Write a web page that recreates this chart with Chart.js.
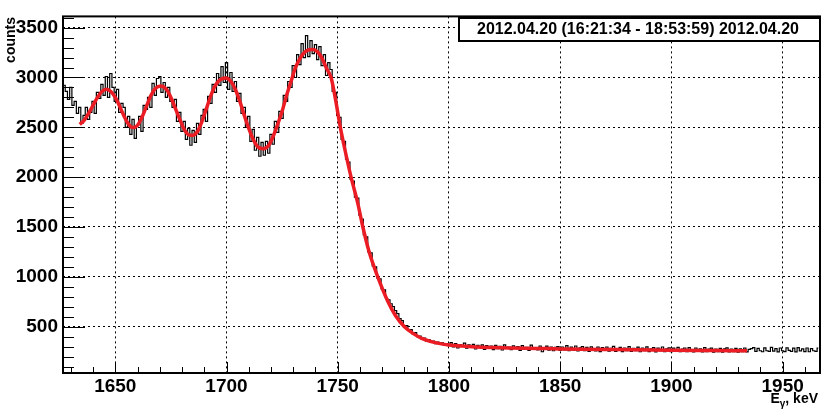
<!DOCTYPE html>
<html>
<head>
<meta charset="utf-8">
<script src="https://cdn.jsdelivr.net/npm/chart.js@4.4.1/dist/chart.umd.min.js"></script>
<style>
  html, body { margin: 0; padding: 0; background: #fff; }
  #c { display: block; }
</style>
</head>
<body>
<canvas id="c" width="830" height="414"></canvas>
<script>
  // --- Dados -----------------------------------------------------------------
  var TITLE = "2012.04.20 (16:21:34 - 18:53:59) 2012.04.20";
  var Y_TITLE = "counts";
  var X_TICKS = [1650, 1700, 1750, 1800, 1850, 1900, 1950];
  var Y_TICKS = [500, 1000, 1500, 2000, 2500, 3000, 3500];

  // histograma: bins de 1 keV a partir de HIST_START
  var HIST_START = 1627;
  var HIST_COUNTS = [
    2920, 2860, 2780, 2900, 2720, 2760, 2640, 2700, 2540, 2620,
    2700, 2580, 2650, 2760, 2640, 2850, 2790, 2930, 2820, 3010,
    2800, 3040, 2900, 2760, 2880, 2650, 2740, 2700, 2500, 2610,
    2430, 2580, 2390, 2520, 2610, 2460, 2720, 2680, 2800, 2700,
    2940, 2820, 2990, 3010, 2850, 2950, 2800, 2900, 2760, 2700,
    2780, 2560, 2650, 2460, 2560, 2380, 2490, 2320, 2470, 2350,
    2540, 2430, 2620, 2680, 2560, 2810, 2740, 2930, 2850, 3040,
    2920, 3110, 2950, 3150, 2880, 3050, 2860, 2960, 2760, 2840,
    2640, 2700, 2500, 2610, 2360, 2480, 2270, 2400, 2210, 2350,
    2220, 2360, 2240, 2430, 2330, 2560, 2450, 2660, 2590, 2820,
    2760, 2960, 2900, 3120, 3000, 3230, 3130, 3340, 3200, 3420,
    3210, 3370, 3240, 3330, 3180, 3310, 3120, 3230, 3020, 3150,
    3080, 2860, 2850, 2620, 2600, 2380, 2360, 2180, 2150, 1980,
    1960, 1800, 1790, 1620, 1580, 1420, 1400, 1250, 1240, 1110,
    1100, 990, 980, 880, 870, 780, 770, 730, 700, 660,
    630, 580, 560, 500, 510, 470, 470, 425, 440, 400,
    405, 375, 385, 355, 370, 345, 355, 330, 345, 322,
    338, 315, 330, 310,
    340, 296, 330, 286, 320, 302, 334, 284, 318, 296,
    322, 276, 312, 296, 318, 272, 310, 290, 304, 270,
    312, 280, 302, 266, 318, 284, 296, 270, 308, 286,
    300, 262, 310, 282, 292, 262, 314, 276, 290, 268,
    306, 248, 288, 304, 264, 296, 258, 292, 300, 262,
    296, 266, 310, 258, 294, 264, 306, 256, 288, 300,
    258, 292, 252, 298, 270, 256, 296, 250, 290, 262,
    296, 254, 282, 302, 252, 280, 292, 250, 286, 258,
    300, 252, 282, 260, 294, 248, 286, 258, 298, 250,
    278, 290, 246, 284, 258, 296, 250, 278, 288, 248,
    284, 252, 292, 248, 276, 286, 250, 290, 256, 246,
    286, 252, 278, 246, 290, 250, 276, 284, 244, 276,
    250, 282, 244, 278, 288, 246, 274, 250, 282, 244,
    278, 248, 286, 246, 272, 280, 290, 252, 282, 258,
    248, 288, 258, 252, 292, 254, 280, 246, 286, 258,
    250, 288, 262, 252, 284, 246, 290, 256, 278, 250,
    286, 248, 280, 258, 252, 284
  ];

  // curva ajustada (vermelha)
  var FIT_E = [
    1634, 1636, 1638, 1640, 1642, 1644, 1646, 1648, 1650, 1652, 1654, 1656, 1658,
    1660, 1662, 1664, 1666, 1668, 1670.5, 1673, 1675, 1677, 1679, 1681, 1683, 1685,
    1687, 1689, 1691, 1693, 1695, 1697, 1699.7, 1702, 1704, 1706, 1708, 1710, 1712,
    1714, 1716.5, 1719, 1721, 1723, 1725, 1727, 1729, 1731, 1733, 1735, 1737, 1739,
    1741, 1743, 1745, 1747, 1749, 1751, 1753, 1756, 1759, 1761.3, 1764, 1768, 1772.6,
    1776, 1780, 1784, 1788, 1792, 1796, 1800, 1806, 1812, 1820, 1827, 1840, 1850,
    1875, 1900, 1920, 1934
  ];
  var FIT_COUNTS = [
    2530, 2570, 2640, 2720, 2800, 2860, 2882, 2860, 2800, 2710, 2610, 2530, 2498,
    2520, 2600, 2710, 2820, 2890, 2915, 2880, 2800, 2690, 2580, 2480, 2425, 2420,
    2460, 2560, 2690, 2820, 2920, 2975, 2995, 2960, 2880, 2760, 2620, 2490, 2380,
    2305, 2285, 2320, 2410, 2530, 2660, 2820, 2960, 3100, 3190, 3250, 3278, 3282,
    3255, 3190, 3090, 3000, 2780, 2520, 2300, 2000, 1740, 1500, 1260, 1000, 750,
    610, 500, 430, 380, 350, 330, 317, 305, 297, 291, 287, 282, 277,
    270, 264, 260, 257
  ];

  var X_MIN = 1626.5, X_MAX = 1966.8;
  var Y_MIN = 35, Y_MAX = 3613;

  // --- Montagem -------------------------------------------------------------
  var FONT = "'Liberation Sans', Helvetica, Arial, sans-serif";

  var histPoints = HIST_COUNTS.map(function (v, i) { return { x: HIST_START + i, y: v }; });
  var fitPoints = FIT_E.map(function (e, i) { return { x: e, y: FIT_COUNTS[i] }; });

  function fixedTicks(list) {
    return function (scale) { scale.ticks = list.map(function (v) { return { value: v }; }); };
  }

  // Moldura, ticks internos estilo ROOT, caixa do título e títulos dos eixos.
  var rootDecor = {
    id: "rootDecor",
    afterDraw: function (chart) {
      var ctx = chart.ctx, a = chart.chartArea;
      var xs = chart.scales.x, ys = chart.scales.y;
      ctx.save();
      ctx.strokeStyle = "#000";
      ctx.lineWidth = 1;
      ctx.beginPath();
      for (var v = 100; v <= 3600; v += 100) {
        var py = Math.round(ys.getPixelForValue(v)) + 0.5;
        if (py < a.top || py > a.bottom) continue;
        var len = (v % 500 === 0) ? 22 : 11;
        ctx.moveTo(a.left, py); ctx.lineTo(a.left + len, py);
      }
      for (var e = 1630; e <= 1960; e += 10) {
        var px = Math.round(xs.getPixelForValue(e)) + 0.5;
        var l2 = (e % 50 === 0) ? 11 : 6;
        ctx.moveTo(px, a.bottom); ctx.lineTo(px, a.bottom - l2);
      }
      ctx.stroke();

      ctx.lineWidth = 2;
      ctx.strokeRect(a.left, a.top, a.right - a.left, a.bottom - a.top);

      // caixa do título
      ctx.fillStyle = "#fff";
      ctx.fillRect(459, 18, 361, 23);
      ctx.lineWidth = 2;
      ctx.strokeRect(459, 18, 361, 23);
      ctx.fillStyle = "#000";
      ctx.font = "bold 16px " + FONT;
      ctx.textAlign = "center";
      ctx.textBaseline = "middle";
      ctx.fillText(TITLE, 638, 30);

      // título do eixo y
      ctx.save();
      ctx.translate(11, 17);
      ctx.rotate(-Math.PI / 2);
      ctx.font = "bold 14px " + FONT;
      ctx.textAlign = "right";
      ctx.textBaseline = "middle";
      ctx.fillText(Y_TITLE, 0, 0);
      ctx.restore();

      // título do eixo x: E_γ, keV
      ctx.textAlign = "left";
      ctx.textBaseline = "alphabetic";
      var big = "bold 14px " + FONT, small = "bold 10px " + FONT;
      ctx.font = big; var wE = ctx.measureText("E").width, wK = ctx.measureText(", keV").width;
      ctx.font = small; var wG = ctx.measureText("\u03b3").width;
      var x0 = 818 - (wE + wG + wK);
      ctx.font = big; ctx.fillText("E", x0, 403);
      ctx.font = small; ctx.fillText("\u03b3", x0 + wE, 407);
      ctx.font = big; ctx.fillText(", keV", x0 + wE + wG, 403);
      ctx.restore();
    }
  };

  new Chart(document.getElementById("c"), {
    type: "line",
    data: {
      datasets: [
        { label: "fit", data: fitPoints, borderColor: "#ec1c24", borderWidth: 3.5,
          pointRadius: 0, cubicInterpolationMode: "monotone", fill: false },
        { label: "hist", data: histPoints, borderColor: "#000", borderWidth: 1.2,
          pointRadius: 0, stepped: "middle", fill: false }
      ]
    },
    options: {
      responsive: false,
      animation: false,
      events: [],
      layout: { padding: { top: 16, right: 10, left: 0, bottom: 0 } },
      plugins: { legend: { display: false }, tooltip: { enabled: false } },
      scales: {
        x: {
          type: "linear", min: X_MIN, max: X_MAX,
          afterFit: function (s) { s.height = 41; },
          afterBuildTicks: fixedTicks(X_TICKS),
          grid: { color: "#000", lineWidth: 1, drawTicks: false },
          border: { display: false, dash: [2, 3] },
          ticks: { maxRotation: 0, autoSkip: false, padding: 2, color: "#000",
                   font: { family: FONT, size: 19, weight: "bold" },
                   callback: function (v) { return String(v); } }
        },
        y: {
          type: "linear", min: Y_MIN, max: Y_MAX,
          afterFit: function (s) { s.width = 63; },
          afterBuildTicks: fixedTicks(Y_TICKS),
          grid: { color: "#000", lineWidth: 1, drawTicks: false },
          border: { display: false, dash: [2, 3] },
          ticks: { autoSkip: false, padding: 5, color: "#000",
                   font: { family: FONT, size: 19, weight: "bold" },
                   callback: function (v) { return String(v); } }
        }
      }
    },
    plugins: [rootDecor]
  });
</script>
</body>
</html>
